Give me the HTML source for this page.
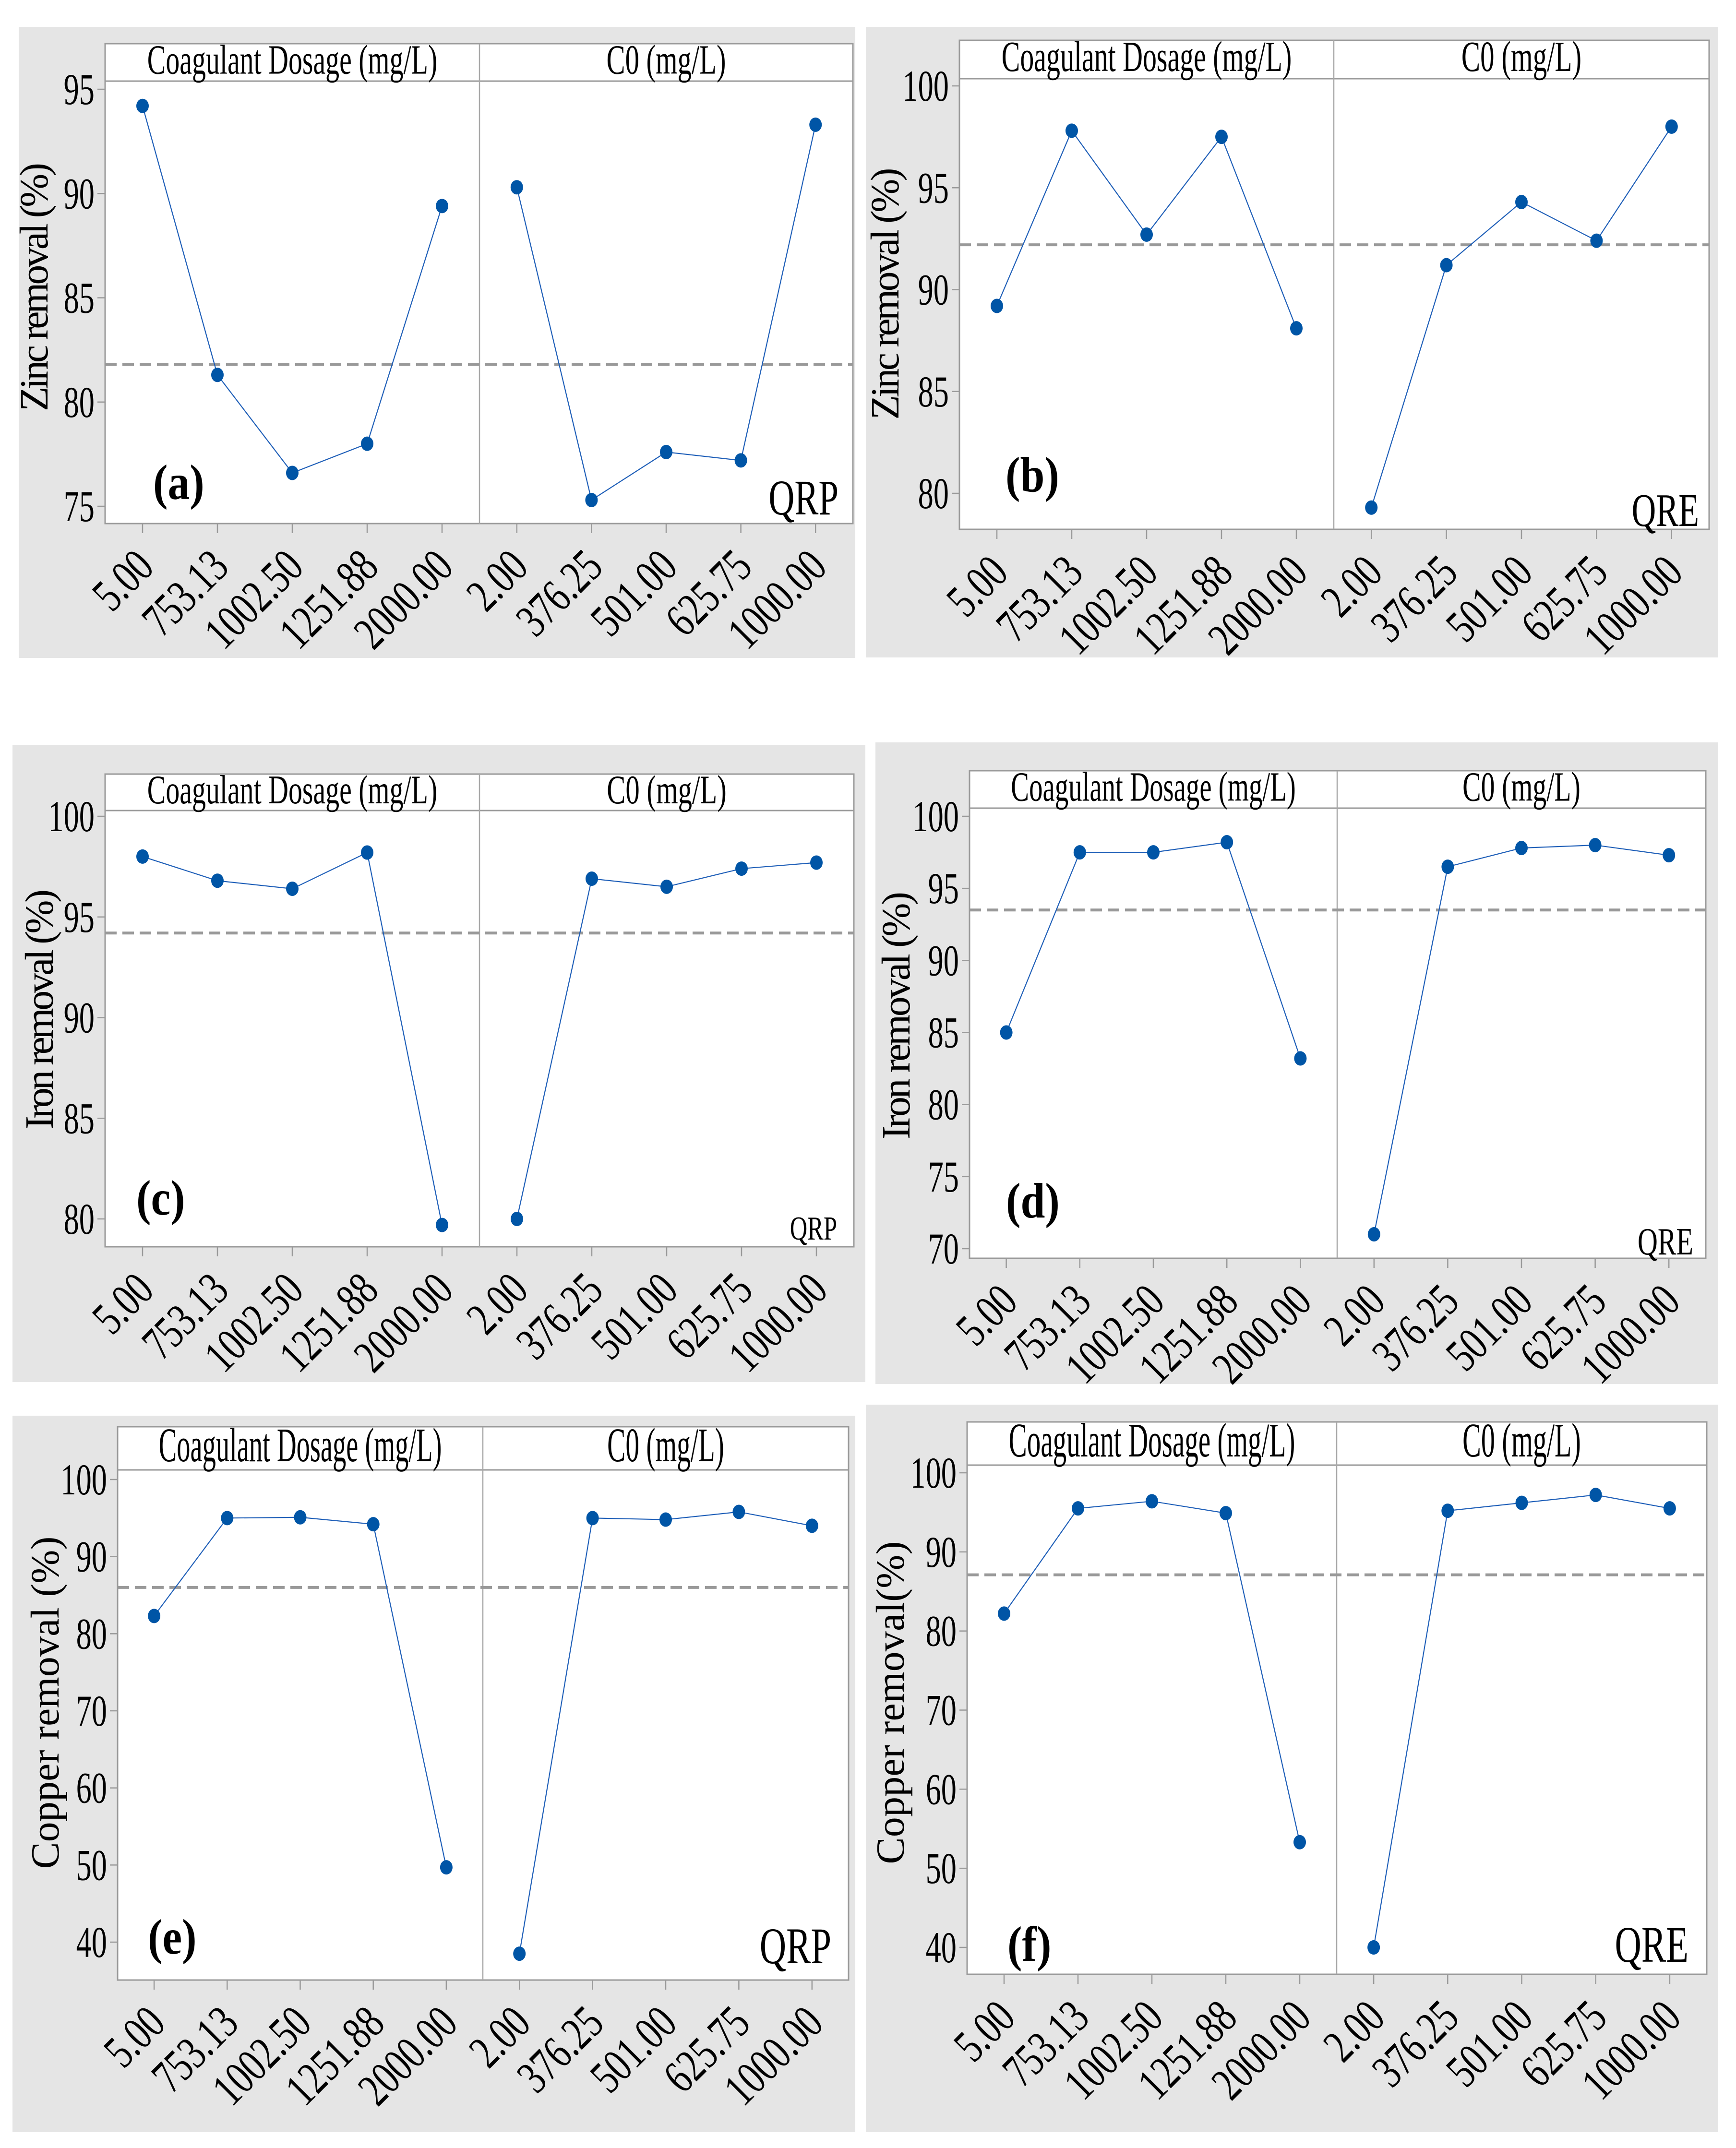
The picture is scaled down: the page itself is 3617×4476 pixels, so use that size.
<!DOCTYPE html>
<html><head><meta charset="utf-8"><title>Main effects plots</title>
<style>
html,body{margin:0;padding:0;background:#fff;}
svg{display:block;}
svg text{font-family:"Liberation Serif","DejaVu Serif",serif;}
</style></head>
<body>
<svg id="fig" width="3617" height="4476" viewBox="0 0 3617 4476" xmlns="http://www.w3.org/2000/svg"></svg>
<script>
// ---- data ----
const dosageLabels = ["5.00","753.13","1002.50","1251.88","2000.00"];
const c0Labels = ["2.00","376.25","501.00","625.75","1000.00"];
const zincQRPDosage = [94.2, 81.3, 76.6, 78.0, 89.4];
const zincQRPC0 = [90.3, 75.3, 77.6, 77.2, 93.3];
const zincQRPMean = 81.8;
const zincQREDosage = [89.2, 97.8, 92.7, 97.5, 88.1];
const zincQREC0 = [79.3, 91.2, 94.3, 92.4, 98.0];
const zincQREMean = 92.2;
const ironQRPDosage = [98.0, 96.8, 96.4, 98.2, 79.7];
const ironQRPC0 = [80.0, 96.9, 96.5, 97.4, 97.7];
const ironQRPMean = 94.2;
const ironQREDosage = [85.0, 97.5, 97.5, 98.2, 83.2];
const ironQREC0 = [71.0, 96.5, 97.8, 98.0, 97.3];
const ironQREMean = 93.5;
const copperQRPDosage = [82.3, 95.0, 95.1, 94.2, 49.7];
const copperQRPC0 = [38.5, 95.0, 94.8, 95.8, 94.0];
const copperQRPMean = 86.0;
const copperQREDosage = [82.2, 95.5, 96.4, 94.9, 53.3];
const copperQREC0 = [40.0, 95.2, 96.2, 97.2, 95.5];
const copperQREMean = 87.1;
const ticksZincA = [75, 80, 85, 90, 95];
const ticksZincB = [80, 85, 90, 95, 100];
const ticksIronC = [80, 85, 90, 95, 100];
const ticksIronD = [70, 75, 80, 85, 90, 95, 100];
const ticksCopper = [40, 50, 60, 70, 80, 90, 100];

const NS = "http://www.w3.org/2000/svg";
const FF = "'Liberation Serif','DejaVu Serif',serif";
const svg = document.getElementById("fig");
function mk(parent, tag, attrs, text) {
  const e = document.createElementNS(NS, tag);
  for (const k in attrs) e.setAttribute(k, attrs[k]);
  if (text !== undefined) { e.textContent = text; e.setAttribute("font-family", FF); }
  parent.appendChild(e);
  return e;
}

const panels = [
  {id:"a", title:"Zinc removal (%)", tag:"QRP", dos:zincQRPDosage, c0:zincQRPC0, mean:zincQRPMean, ticks:ticksZincA,
   gray:[39,56,1782,1371], L:219,T:91,R:1777,B:1091, H:169, D:999, yHiV:95, yHi:186, yLoV:75, yLo:1055,
   yt:{x:99,cy:598,len:518}, lab:{x:319,y:1040}, tg:{x:1747,y:1072,fs:80}},
  {id:"b", title:"Zinc removal (%)", tag:"QRE", dos:zincQREDosage, c0:zincQREC0, mean:zincQREMean, ticks:ticksZincB,
   gray:[1804,56,3580,1370], L:1999,T:84,R:3561,B:1103, H:164, D:2779, yHiV:100, yHi:179, yLoV:80, yLo:1028,
   yt:{x:1872,cy:612,len:525}, lab:{x:2095,y:1024}, tg:{x:3540,y:1096,fs:75}},
  {id:"c", title:"Iron removal (%)", tag:"QRP", dos:ironQRPDosage, c0:ironQRPC0, mean:ironQRPMean, ticks:ticksIronC,
   gray:[26,1552,1803,2880], L:219,T:1613,R:1779,B:2598, H:1689, D:999, yHiV:100, yHi:1701, yLoV:80, yLo:2540,
   yt:{x:110,cy:2103,len:500}, lab:{x:284,y:2531}, tg:{x:1744,y:2583,fs:54}},
  {id:"d", title:"Iron removal (%)", tag:"QRE", dos:ironQREDosage, c0:ironQREC0, mean:ironQREMean, ticks:ticksIronD,
   gray:[1824,1547,3580,2884], L:2020,T:1606,R:3554,B:2622, H:1684, D:2786, yHiV:100, yHi:1701, yLoV:70, yLo:2602,
   yt:{x:1895,cy:2116,len:516}, lab:{x:2096,y:2537}, tg:{x:3528,y:2614,fs:62}},
  {id:"e", title:"Copper removal (%)", tag:"QRP", dos:copperQRPDosage, c0:copperQRPC0, mean:copperQRPMean, ticks:ticksCopper,
   gray:[26,2950,1782,4443], L:245,T:2973,R:1768,B:4126, H:3063, D:1006, yHiV:100, yHi:3083, yLoV:40, yLo:4047,
   yt:{x:122,cy:3548,len:693}, lab:{x:308,y:4071}, tg:{x:1732,y:4091,fs:82}},
  {id:"f", title:"Copper removal(%)", tag:"QRE", dos:copperQREDosage, c0:copperQREC0, mean:copperQREMean, ticks:ticksCopper,
   gray:[1804,2927,3580,4443], L:2015,T:2963,R:3556,B:4114, H:3053, D:2785, yHiV:100, yHi:3069, yLoV:40, yLo:4058,
   yt:{x:1883,cy:3548,len:673}, lab:{x:2099,y:4086}, tg:{x:3518,y:4088,fs:82}}
];

panels.forEach(p => {
  const g = mk(svg, "g", {});
  
  
  const yS = v => p.yHi + (p.yHiV - v) * (p.yLo - p.yHi) / (p.yHiV - p.yLoV);
  const xS = (secL, secR, i) => { const W = secR - secL, pad = W * 0.1; return secL + pad + i * (W - 2 * pad) / 4; };

  const bg = mk(g, "rect", {x:p.gray[0], y:p.gray[1], width:p.gray[2]-p.gray[0], height:p.gray[3]-p.gray[1], fill:"#e5e5e5"});
  
  
  const fr = mk(g, "rect", {x:p.L, y:p.T, width:p.R-p.L, height:p.B-p.T, fill:"#fff", stroke:"#9a9a9a", "stroke-width":3});
  
  
  const hl = mk(g, "line", {x1:p.L, x2:p.R, y1:p.H, y2:p.H, stroke:"#9a9a9a", "stroke-width":3});
  
  
  const dv = mk(g, "line", {x1:p.D, x2:p.D, y1:p.T, y2:p.B, stroke:"#a8a8a8", "stroke-width":2.5});
  
  

  // headers
  const hh = p.H - p.T, hfs = hh * 1.12, hb = p.H - hh * 0.2;
  const WL = p.D - p.L, WR = p.R - p.D;
  const h1 = mk(g, "text", {x:(p.L+p.D)/2, y:hb, "font-size":hfs, "text-anchor":"middle", textLength:WL*0.775, lengthAdjust:"spacingAndGlyphs", fill:"#000"}, "Coagulant Dosage (mg/L)");
  
  
  const h2 = mk(g, "text", {x:(p.D+p.R)/2, y:hb, "font-size":hfs, "text-anchor":"middle", textLength:WR*0.32, lengthAdjust:"spacingAndGlyphs", fill:"#000"}, "C0 (mg/L)");
  
  

  // y ticks
  p.ticks.forEach(v => {
    const y = yS(v);
    const tl = mk(g, "line", {x1:p.L-16, x2:p.L, y1:y, y2:y, stroke:"#9a9a9a", "stroke-width":2.5});
    
    
    const tx = mk(g, "text", {transform:`translate(${p.L-22},${y+31}) scale(0.7,1)`, "font-size":92, "text-anchor":"end", fill:"#000"}, String(v));
    
    
  });

  // y title
  const yt = mk(g, "text", {transform:`translate(${p.yt.x},${p.yt.cy}) rotate(-90)`, "font-size":84, "text-anchor":"middle", textLength:p.yt.len, lengthAdjust:"spacing", fill:"#000"}, p.title);
  
  

  // mean line
  const ml = mk(g, "line", {x1:p.L, x2:p.R, y1:yS(p.mean), y2:yS(p.mean), stroke:"#999", "stroke-width":6, "stroke-dasharray":"24 12"});
  
  

  // sections
  [[p.L, p.D, p.dos, dosageLabels, "dosage"], [p.D, p.R, p.c0, c0Labels, "c0"]].forEach(sec => {
    const [sl, sr, vals, labs, nm] = sec;
    const pts = vals.map((v, i) => [xS(sl, sr, i), yS(v)]);
    labs.forEach((lb, i) => {
      const x = xS(sl, sr, i);
      const tk = mk(g, "line", {x1:x, x2:x, y1:p.B, y2:p.B+20, stroke:"#9a9a9a", "stroke-width":2.5});
      
      
      const t = mk(g, "text", {transform:`translate(${x+28},${p.B+95}) rotate(-45) scale(0.76,1)`, "font-size":98, "text-anchor":"end", fill:"#000"}, lb);
      
      
    });
    const pl = mk(g, "polyline", {points:pts.map(q => q.join(",")).join(" "), fill:"none", stroke:"#1f5fb8", "stroke-width":2.2});
    
    
    pts.forEach(q => {
      const c = mk(g, "ellipse", {cx:q[0], cy:q[1], rx:13, ry:15, fill:"#0055a6"});
      
      
    });
  });

  const lb = mk(g, "text", {transform:`translate(${p.lab.x},${p.lab.y}) scale(0.88,1)`, "font-size":104, "font-weight":"bold", fill:"#000"}, "(" + p.id + ")");
  
  
  const tg = mk(g, "text", {transform:`translate(${p.tg.x},${p.tg.y}) scale(0.72,1)`, "font-size":p.tg.fs*1.3, "text-anchor":"end", fill:"#000"}, p.tag);
  
  
});
</script>
</body></html>
